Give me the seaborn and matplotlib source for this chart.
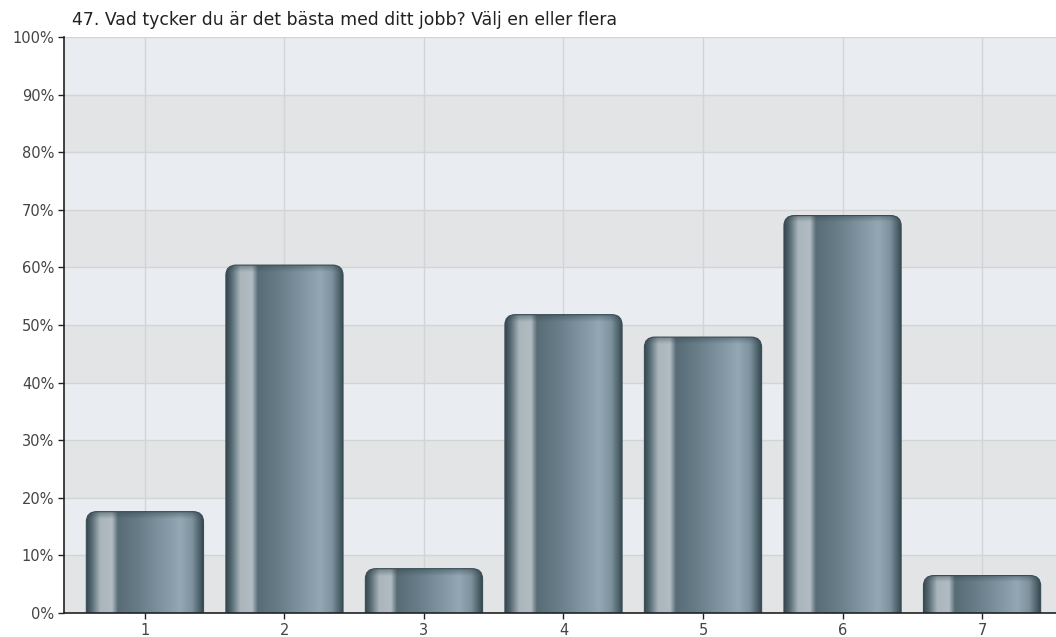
import numpy as np
import pandas as pd
import matplotlib
matplotlib.use("Agg")
import matplotlib.pyplot as plt
import seaborn as sns
from matplotlib.patches import FancyBboxPatch
from matplotlib.colors import LinearSegmentedColormap

title = "47. Vad tycker du är det bästa med ditt jobb? Välj en eller flera"
categories = ["1", "2", "3", "4", "5", "6", "7"]
values = [17.6, 60.4, 7.7, 51.8, 47.9, 69.0, 6.5]
yticks = [0, 10, 20, 30, 40, 50, 60, 70, 80, 90, 100]
ytick_labels = [f"{v}%" for v in yticks]

sns.set_theme(style="white")
plt.rcParams["font.family"] = ["DejaVu Sans"]

fig = plt.figure(figsize=(10.56, 6.37), dpi=100)
ax = fig.add_axes([64 / 1056, 24 / 637, 1 - 64 / 1056, 576 / 637])

df = pd.DataFrame({"cat": categories, "val": values})
sns.barplot(data=df, x="cat", y="val", ax=ax, width=0.84, color="#5e7480", zorder=3)
bar_patches = list(ax.patches)

ax.set_ylim(0, 100)
ax.set_xlim(-0.58, 6.53)

# cylinder gradient
stops = [(0.0, "#33454d"), (0.05, "#5a6e77"), (0.12, "#aab6bc"), (0.22, "#b0bcc2"),
         (0.27, "#586c76"), (0.45, "#677d88"), (0.8, "#93a8b4"), (0.9, "#7e939e"),
         (0.97, "#4a5e68"), (1.0, "#33454e")]
cmap = LinearSegmentedColormap.from_list("cyl", stops)
grad = np.linspace(0, 1, 256).reshape(1, -1)
top = np.linspace(0, 1, 50).reshape(-1, 1)
top_cmap = LinearSegmentedColormap.from_list(
    "top", [(0, (0.2, 0.27, 0.3, 0.0)), (1, (0.2, 0.27, 0.3, 0.45))])

rx = 0.075
ry = 1.8
for p in bar_patches:
    x0, w, h = p.get_x(), p.get_width(), p.get_height()
    p.set_visible(False)
    clip = FancyBboxPatch((x0, -5), w, h + 5,
                          boxstyle=f"round,pad=0,rounding_size={rx}",
                          mutation_aspect=ry / rx,
                          facecolor="none", edgecolor="#3a4d56", lw=0.8,
                          transform=ax.transData, zorder=4)
    ax.add_patch(clip)
    im = ax.imshow(grad, cmap=cmap, extent=(x0, x0 + w, 0, h), aspect="auto",
                   zorder=3, interpolation="bilinear")
    im.set_clip_path(clip)
    im2 = ax.imshow(top, cmap=top_cmap, extent=(x0, x0 + w, h - 1.2, h),
                    aspect="auto", origin="lower", zorder=3.5, interpolation="bilinear")
    im2.set_clip_path(clip)

# background bands
ax.set_facecolor("#e9edf1")
for i, lo in enumerate(yticks[:-1]):
    if (9 - i) % 2 == 1:
        ax.axhspan(lo, lo + 10, color="#e3e4e6", zorder=0, lw=0)

ax.grid(True, color="#d2d4d6", lw=1, zorder=1)
ax.set_axisbelow(True)

ax.set_ylim(0, 100)
ax.set_xlim(-0.58, 6.53)

ax.set_yticks(yticks)
ax.set_yticklabels(ytick_labels)
ax.set_xlabel("")
ax.set_ylabel("")
ax.tick_params(axis="both", colors="#444444", labelsize=10.5, length=4, width=1,
               direction="out", left=True, bottom=True, pad=3)
ax.tick_params(axis="both", color="#222222")

for s in ["top", "right"]:
    ax.spines[s].set_visible(False)
for s in ["left", "bottom"]:
    ax.spines[s].set_color("#222222")
    ax.spines[s].set_linewidth(1.2)
    ax.spines[s].set_zorder(6)

fig.text(72 / 1056, 1 - 20 / 637, title, fontsize=12.4, color="#222222",
         ha="left", va="center")

fig.savefig("out.png", dpi=100)
